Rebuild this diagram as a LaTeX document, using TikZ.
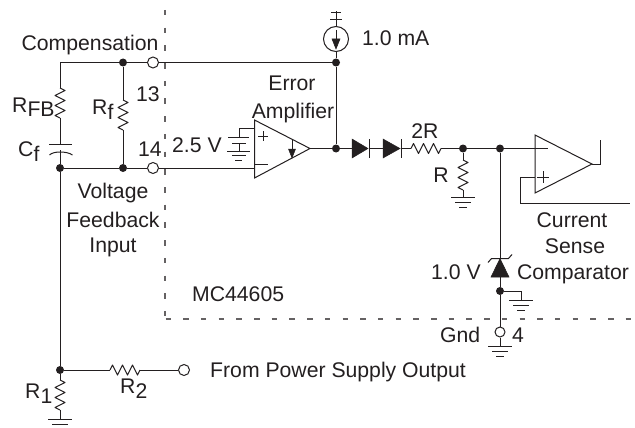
\documentclass[tikz,border=0pt]{standalone}
\usepackage{fontspec}
\setmainfont{Liberation Sans}
\definecolor{ink}{HTML}{231F20}
\tikzset{
  wire/.style={draw=ink,line width=1pt},
  dashline/.style={draw=ink!70,line width=1.2pt,dash pattern=on 5.5pt off 12.2pt},
  dot/.style={circle,fill=ink,draw=none,inner sep=0pt,minimum size=8pt},
  term/.style={circle,draw=ink,fill=white,line width=1pt,inner sep=0pt,minimum size=11pt},
  lbl/.style={anchor=base,inner sep=0pt,text=ink,font=\fontsize{21.2}{24}\selectfont},
  lbll/.style={lbl,anchor=base west},
  sym/.style={fill=ink,draw=ink,line width=0.5pt},
  res/.pic={\draw[wire,line join=round] (0,0)--(2.5,-5)--(7.5,5)--(12.5,-5)--(17.5,5)--(22.5,-5)--(27.5,5)--(30,0);},
  gnd/.pic={\draw[wire] (-12,0)--(12,0) (-8,5)--(8,5) (-4,10)--(4,10);},
}
\newcommand{\sub}[1]{\raisebox{-5pt}{#1}}
\begin{document}
\begin{tikzpicture}[x=1pt,y=-1pt]
\useasboundingbox (0,0) rectangle (635,428);
% named points
\coordinate (tl) at (60,62.5);
\coordinate (rfbT) at (60,88);
\coordinate (rfbB) at (60,118);
\coordinate (capT) at (60,144.5);
\coordinate (capB) at (60,150);
\node[dot] (fbL) at (60,168) {};
\node[dot] (top13) at (123,62.5) {};
\node[dot] (fb14) at (123,168) {};
\coordinate (rfT) at (123,100);
\coordinate (rfB) at (123,130);
\node[term] (p13) at (153,62.5) {};
\node[term] (p14) at (153,168) {};
\coordinate (ampA) at (254.5,120);
\coordinate (ampB) at (254.5,178);
\coordinate (ampO) at (310,148.5);
\coordinate (ampM) at (254.5,168);
\coordinate (ampP) at (254.5,128);
\node[dot] (jTop) at (336,62.5) {};
\node[dot] (jOut) at (336,148.5) {};
\node[circle,draw=ink,line width=1pt,inner sep=0pt,minimum size=25pt] (isrc) at (336,39) {};
\coordinate (vcc) at (336,11);
\coordinate (d1A) at (352,148.5);
\coordinate (d1K) at (369.5,148.5);
\coordinate (d2A) at (383,148.5);
\coordinate (d2K) at (401.5,148.5);
\coordinate (r2A) at (411,148.5);
\coordinate (r2B) at (441,148.5);
\node[dot] (jR) at (463,148.5) {};
\node[dot] (jZ) at (500,148.5) {};
\coordinate (rT) at (463,160);
\coordinate (rB) at (463,190);
\coordinate (rG) at (463,197);
\coordinate (cmpM) at (535,148.5);
\coordinate (cmpP) at (535,177);
\coordinate (cmpO) at (592,164);
\coordinate (zT) at (500,258.5);
\coordinate (zB) at (500,277);
\node[dot] (jG) at (500,291) {};
\coordinate (gI) at (521,300);
\node[term,minimum size=10pt] (p4) at (500,332) {};
\coordinate (gO) at (500,346);
\node[dot] (jB) at (60,370) {};
\coordinate (r1T) at (60,380);
\coordinate (r1B) at (60,410);
\coordinate (g1) at (60,419);
\coordinate (r2L) at (110,370);
\coordinate (r2R) at (140,370);
\node[term] (pPS) at (184,370) {};
% dashed package outline
\draw[dashline] (165,10)--(165,317);
\draw[dashline] (165.5,319)--(635,319);
% wiring
\draw[wire] (p13)--(top13)--(tl)--(rfbT) (rfbB)--(capT);
\draw[wire] (capB)--(fbL)--(fb14)--(p14);
\draw[wire] (fbL)--(jB)--(r1T) (r1B)--(g1);
\draw[wire] (top13)--(rfT) (rfB)--(fb14);
\draw[wire] (p13)--(jTop)--(jOut)--(ampO);
\draw[wire] (p14)--(ampM);
\draw[wire] (jTop)--(isrc) (isrc)--(vcc);
\draw[wire] (jOut)--(d1A) (d1K)--(d2A) (d2K)--(r2A) (r2B)--(jR)--(jZ)--(cmpM);
\draw[wire] (jR)--(rT) (rB)--(rG);
\draw[wire] (jZ)--(zT) (zB)--(jG)--(p4)--(gO);
\draw[wire] (jG)-|(gI);
\draw[wire] (jB)--(r2L) (r2R)--(pPS);
\draw[wire] (cmpO)-|(600,140);
\draw[wire] (cmpP)-|(520,203)--(630,203);
% resistors
\pic[rotate=-90] at (rfbT) {res};
\pic[rotate=-90] at (rfT) {res};
\pic[rotate=-90] at (rT) {res};
\pic[rotate=-90] at (r1T) {res};
\pic at (r2A) {res};
\pic at (r2L) {res};
% capacitor
\draw[wire] (49,144.5)--(72,144.5);
\draw[wire] (49.5,155) .. controls (53,151) and (67,151) .. (72.5,155);
% amps
\draw[wire,line join=miter] (ampA)--(ampO)--(ampB)--cycle;
\draw[wire,line join=miter] (535,135)--(cmpO)--(535,193)--cycle;
\draw[wire] (254.5,164)--(268,164) (258,136)--(268,136) (263,131)--(263,141);
\draw[wire] (cmpM)--(548,148.5) (537,177)--(549,177) (543,171)--(543,183);
\draw[wire] (292,140)--(292,150);
\draw[sym] (288.5,149)--(295.5,149)--(292,158)--cycle;
% battery
\draw[wire] (ampP)-|(239,137.5) (239,143.5)--(239,151);
\draw[wire] (228,137.5)--(249,137.5) (232,143.5)--(246,143.5) (227,151)--(250,151) (232,155.5)--(246,155.5) (235,160.5)--(242,160.5);
% current source
\draw[wire] (336,30)--(336,40);
\draw[sym] (332,39)--(340,39)--(336,49)--cycle;
\draw[wire] (331,13)--(341,13) (330,20)--(342,20);
% diodes
\draw[sym] (352,139)--(368,148.5)--(352,158)--cycle;
\draw[wire] (369.5,139)--(369.5,158);
\draw[sym] (383,139)--(400,148.5)--(383,158)--cycle;
\draw[wire] (401.5,139)--(401.5,158);
% zener
\draw[sym] (zT)--(509,277)--(491,277)--cycle;
\draw[wire] (488,262.5)--(491.5,258.5)--(508.5,258.5)--(512,254.5);
% grounds
\pic at (rG) {gnd};
\pic at (gI) {gnd};
\pic at (gO) {gnd};
\pic at (g1) {gnd};
% labels
\node[lbl] (tComp) at (90,51) {Compensation};
\node[lbll] (tRfb) at (12,112) {R\sub{FB}};
\node[lbll] (tRf) at (92,114) {R\sub{f}};
\node[lbll] (tCf) at (18,157) {C\sub{f}};
\node[lbl] (t13) at (148,102) {13};
\node[lbl] (t14) at (150,157) {14};
\node[lbll] (t25) at (172,152) {2.5 V};
\node[lbl] (tErr) at (292,91) {Error};
\node[lbl] (tAmp) at (293,118) {Amplifier};
\node[lbl] (tV) at (113,198) {Voltage};
\node[lbl] (tF) at (113,227) {Feedback};
\node[lbl] (tI) at (113,252) {Input};
\node[lbll] (tMC) at (192,301) {MC44605};
\node[lbll] (tI1) at (362,46) {1.0 mA};
\node[lbl] (t2R) at (425,138) {2R};
\node[lbl] (tR) at (441,182) {R};
\node[lbl] (tCur) at (572,227) {Current};
\node[lbl] (tSen) at (575,253) {Sense};
\node[lbl] (tCmp) at (573,279) {Comparator};
\node[lbll] (t1V) at (431,279) {1.0 V};
\node[lbll] (tGnd) at (440,342) {Gnd};
\node[lbl] (t4) at (518,342) {4};
\node[lbll] (tFrom) at (210,377) {From Power Supply Output};
\node[lbll] (tR1) at (25,398) {R\sub{1}};
\node[lbll] (tR2) at (120,393) {R\sub{2}};
\end{tikzpicture}
\end{document}
